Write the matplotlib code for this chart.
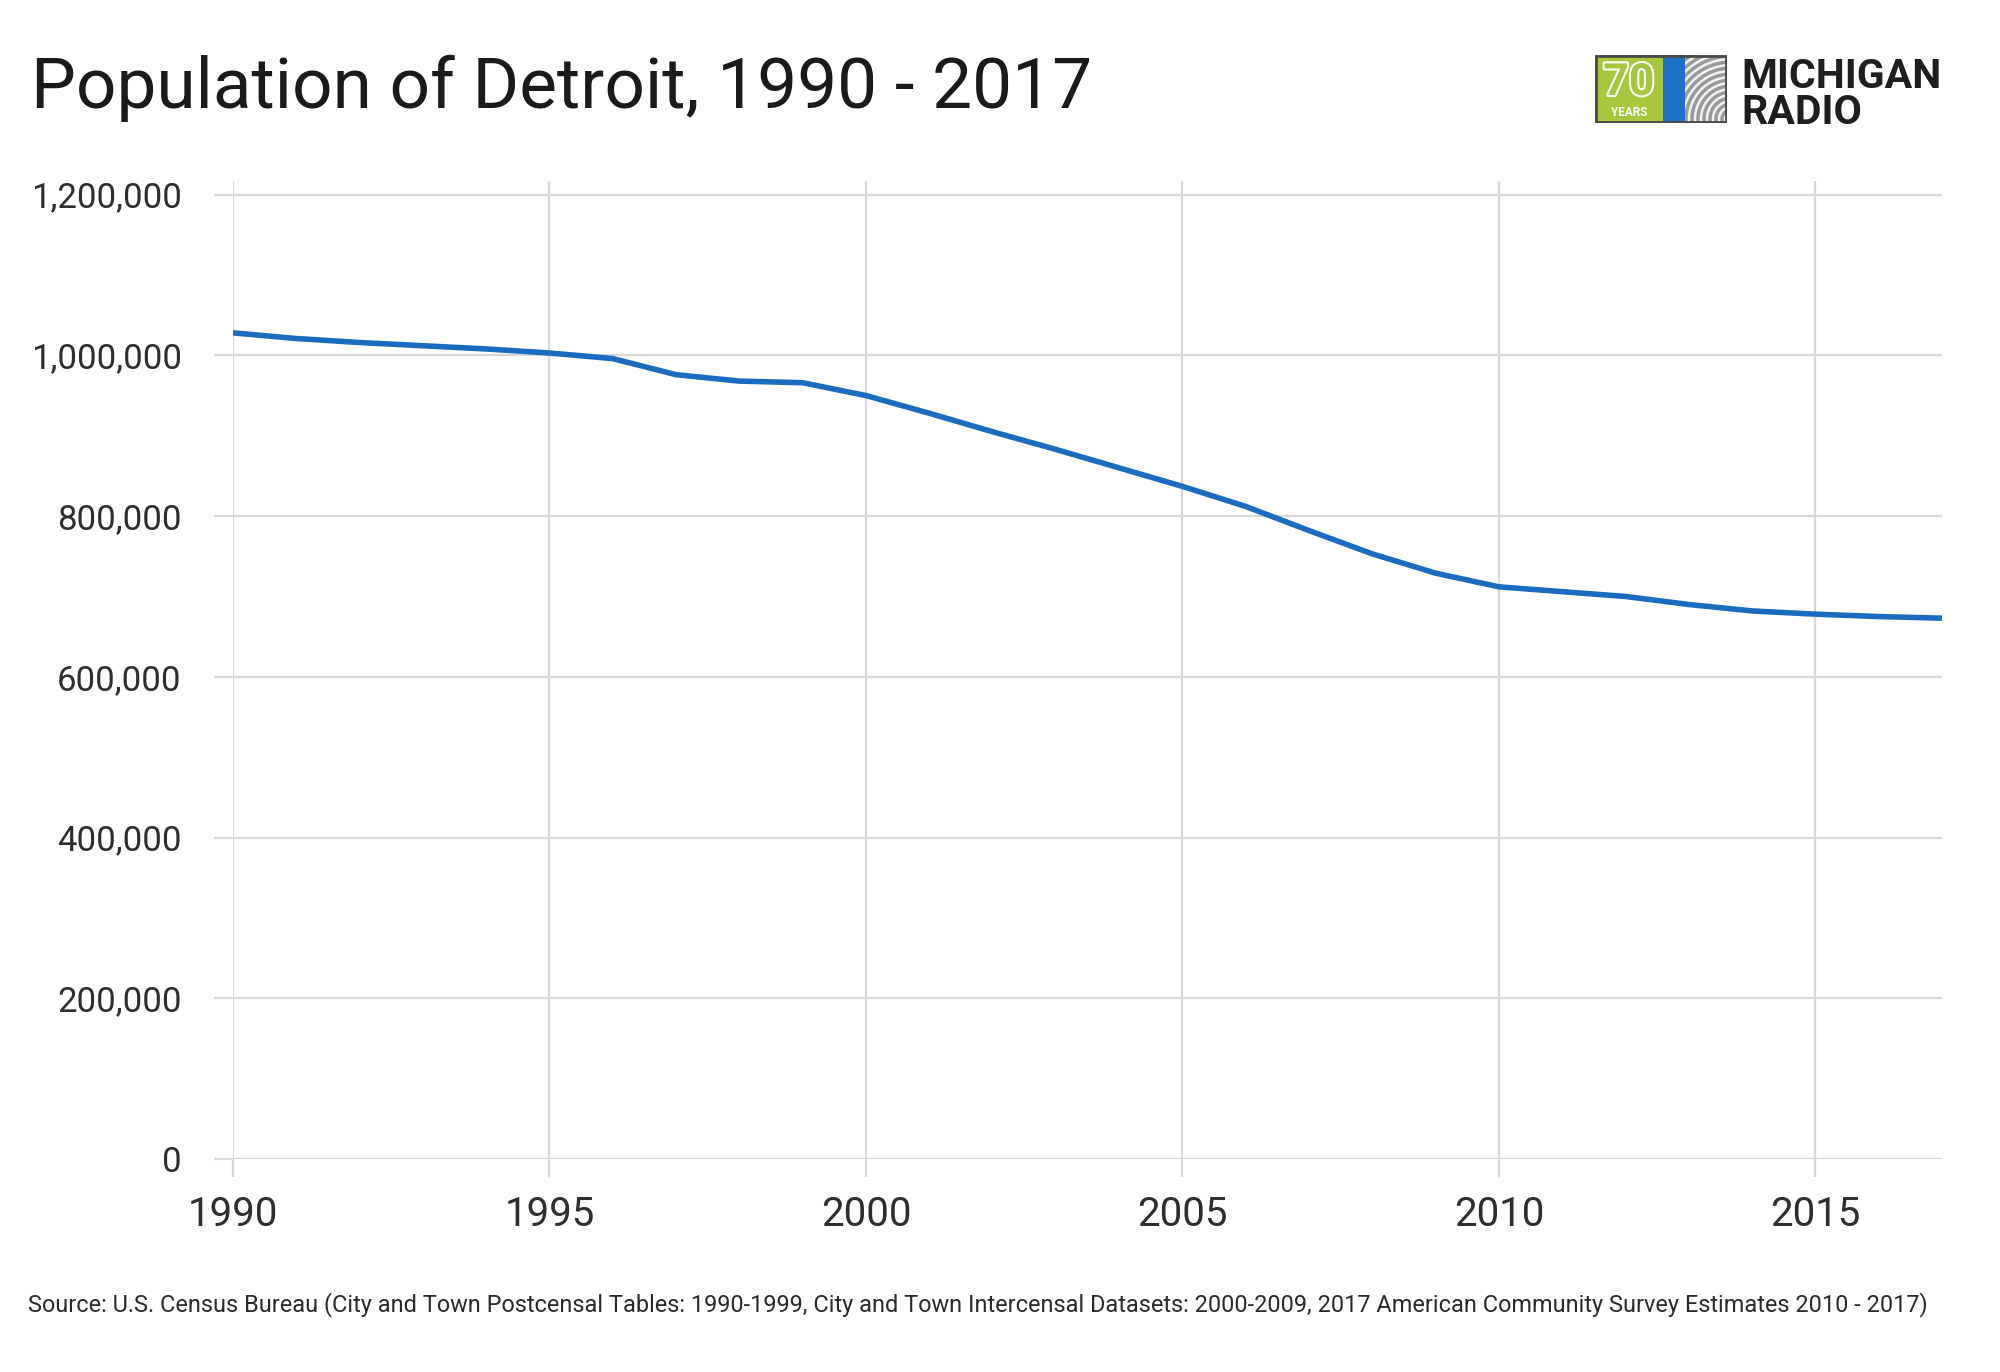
#!/usr/bin/env python3
'''
Population of Detroit, 1990 - 2017 (line chart, Michigan Radio style)
'''

import matplotlib
matplotlib.use("Agg")
import matplotlib.pyplot as plt
import matplotlib.patheffects as pe
from matplotlib.patches import Rectangle, Arc
from matplotlib.ticker import FuncFormatter


W_PX = 2000
H_PX = 1372
DPI = 100

LINE_COLOR = "#1b6cc0"
GRID_COLOR = "#d8d8d8"
TEXT_COLOR = "#2e2e2e"

# values
YEARS = list(range(1990, 2018))
POPULATION = [
    1028000, 1021000, 1016000, 1012000, 1008000,  # 1990-1994
    1003000, 996000, 976000, 968000, 966000,      # 1995-1999
    950000, 928000, 905000, 883000, 860000,       # 2000-2004
    837000, 812000, 782000, 753000, 729000,       # 2005-2009
    712000, 706000, 700000, 690000, 682000,       # 2010-2014
    678000, 675000, 673000,                       # 2015-2017
]

X_TICKS = [1990, 1995, 2000, 2005, 2010, 2015]
Y_TICKS = [0, 200000, 400000, 600000, 800000, 1000000, 1200000]

TITLE = "Population of Detroit, 1990 - 2017"
SOURCE = ("Source: U.S. Census Bureau (City and Town Postcensal Tables: 1990-1999, "
          "City and Town Intercensal Datasets: 2000-2009, 2017 American Community "
          "Survey Estimates 2010 - 2017)")


def fx(px):
    return px / W_PX

def fy(px):
    # pixel row (from top) -> figure fraction
    return 1 - px / H_PX


def drawLogo(fig):
    # box spans x 1595..1727, y 55..123 (pixels)
    lax = fig.add_axes([fx(1595), fy(123), fx(132), 68 / H_PX])
    lax.set_xlim(0, 132)
    lax.set_ylim(0, 68)
    lax.axis("off")

    lax.add_patch(Rectangle((0, 0), 68, 68, facecolor="#a6c73b", edgecolor="none"))
    lax.add_patch(Rectangle((68, 0), 22, 68, facecolor="#1d72c8", edgecolor="none"))
    grayBox = Rectangle((90, 0), 42, 68, facecolor="#9a9a9a", edgecolor="none")
    lax.add_patch(grayBox)
    for r in range(6, 90, 6):
        arc = Arc((136, 4), 2 * r, 2 * r, theta1=90, theta2=200,
                  color="#f2f2f2", lw=1.8)
        lax.add_patch(arc)
        arc.set_clip_path(grayBox)
    lax.add_patch(Rectangle((1, 1), 130, 66, facecolor="none", edgecolor="#4a4a4a", lw=2))

    lax.text(34, 40, "70", color="#a6c73b", fontsize=32, fontweight="bold",
             family="Roboto", ha="center", va="center",
             path_effects=[pe.withStroke(linewidth=3, foreground="white")])
    lax.text(34, 11, "YEARS", color="white", fontsize=8.5, fontweight="bold",
             family="Roboto", ha="center", va="center")

    fig.text(fx(1741), fy(124), "MICHIGAN\nRADIO", fontsize=29.5, fontweight="bold",
             family="Roboto", color="#1e1e1e", ha="left", va="baseline",
             linespacing=0.92)


def run():
    plt.rcParams["font.family"] = ["Roboto", "DejaVu Sans"]

    fig = plt.figure(figsize=(W_PX / DPI, H_PX / DPI), dpi=DPI)
    fig.patch.set_facecolor("white")

    left, right = 233, 1942
    top, bottom = 181, 1159
    ax = fig.add_axes([fx(left), fy(bottom), fx(right - left), (bottom - top) / H_PX])

    ax.plot(YEARS, POPULATION, color=LINE_COLOR, lw=4, solid_capstyle="butt",
            solid_joinstyle="round", zorder=3)

    ax.set_xlim(1990, 2017)
    ax.set_ylim(0, 1217000)
    ax.set_xticks(X_TICKS)
    ax.set_yticks(Y_TICKS)
    ax.yaxis.set_major_formatter(FuncFormatter(lambda v, p: f"{int(v):,}"))

    ax.grid(True, color=GRID_COLOR, lw=1.6, zorder=0)
    for s in ax.spines.values():
        s.set_visible(False)

    ax.tick_params(axis="x", length=13, width=1.6, color=GRID_COLOR,
                   labelsize=29, labelcolor=TEXT_COLOR, pad=13)
    ax.tick_params(axis="y", length=14, width=1.6, color=GRID_COLOR,
                   labelsize=25, labelcolor=TEXT_COLOR, pad=23)

    fig.text(fx(31), fy(108), TITLE, fontsize=51.2, color="#1a1a1a",
             ha="left", va="baseline")
    fig.text(fx(28), fy(1311), SOURCE, fontsize=16.9, color="#2a2a2a",
             ha="left", va="baseline")

    drawLogo(fig)

    fig.savefig("out.png", dpi=DPI, facecolor="white")


if __name__ == '__main__':
    run()
